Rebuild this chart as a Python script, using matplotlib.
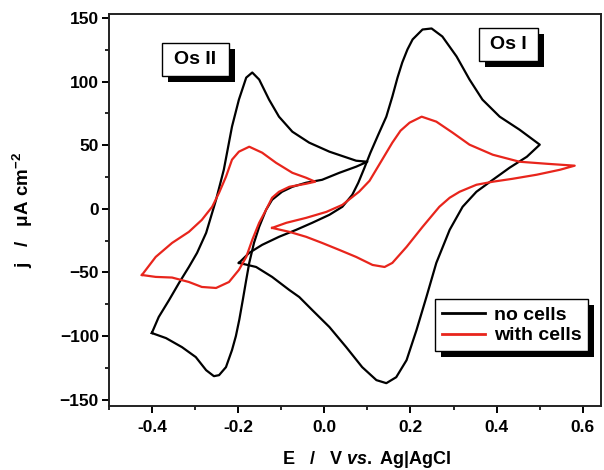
import matplotlib
matplotlib.use("Agg")
import matplotlib.pyplot as plt
from matplotlib.patches import Rectangle
from matplotlib.ticker import MultipleLocator
import matplotlib.transforms as mtransforms

plt.rcParams['font.family'] = ['Liberation Sans', 'DejaVu Sans']
plt.rcParams['mathtext.fontset'] = 'custom'
plt.rcParams['mathtext.rm'] = 'Liberation Sans:bold'
plt.rcParams['mathtext.bf'] = 'Liberation Sans:bold'
plt.rcParams['mathtext.it'] = 'Liberation Sans:italic:bold'

# ---- data (E in V vs Ag|AgCl, j in uA cm^-2) ----
nocells_os2_E = [-0.400, -0.384, -0.360, -0.337, -0.314, -0.295, -0.274, -0.251, -0.233, -0.214,
                 -0.198, -0.181, -0.167, -0.151, -0.128, -0.105, -0.074, -0.035, 0.012, 0.074,
                 0.100,
                 0.074, 0.035, -0.005, -0.042, -0.074, -0.098, -0.121, -0.135, -0.151, -0.163,
                 -0.174, -0.181, -0.189, -0.197, -0.205, -0.214, -0.228, -0.244, -0.256, -0.274,
                 -0.298, -0.330, -0.367, -0.400]
nocells_os2_j = [-97.6, -85.0, -71.7, -58.3, -45.7, -34.6, -18.9, 7.1, 30.7, 64.6,
                 85.8, 103.1, 107.1, 101.6, 85.8, 72.4, 60.6, 52.0, 44.9, 37.8,
                 37.0,
                 33.1, 28.3, 22.8, 20.5, 17.3, 13.4, 7.1, -0.8, -14.2, -26.8,
                 -42.5, -55.9, -71.7, -87.0, -100.0, -111.0, -124.4, -130.7, -131.5, -126.8,
                 -116.5, -108.7, -101.6, -97.6]

nocells_os1_E = [-0.198, -0.174, -0.144, -0.105, -0.065, -0.028, 0.012, 0.042, 0.065, 0.079,
                 0.093, 0.107, 0.125, 0.144, 0.158, 0.170, 0.181, 0.193, 0.205, 0.228,
                 0.249, 0.274, 0.307, 0.337, 0.367, 0.407, 0.453, 0.500,
                 0.470, 0.430, 0.391, 0.353, 0.321, 0.291, 0.260, 0.237, 0.214, 0.191,
                 0.167, 0.144, 0.121, 0.088, 0.051, 0.012, -0.028, -0.058, -0.081, -0.121,
                 -0.158, -0.198]
nocells_os1_j = [-42.5, -34.6, -28.3, -22.0, -16.5, -11.0, -4.7, 1.6, 11.0, 20.5,
                 32.0, 44.0, 58.0, 72.4, 88.2, 103.1, 115.0, 125.2, 133.1, 140.9,
                 141.7, 135.4, 119.7, 101.6, 85.8, 72.4, 62.2, 50.4,
                 40.9, 32.3, 22.8, 13.4, 1.6, -16.5, -42.5, -69.3, -95.3, -118.9,
                 -132.3, -137.0, -134.6, -124.4, -108.7, -92.9, -79.5, -69.3, -63.8, -53.5,
                 -45.7, -42.5]

cells_os2_E = [-0.423, -0.391, -0.353, -0.314, -0.284, -0.260, -0.244, -0.228, -0.214, -0.198,
               -0.174, -0.144, -0.112, -0.074, -0.042, -0.021,
               -0.042, -0.081, -0.105, -0.121, -0.135, -0.151, -0.167, -0.181, -0.198, -0.221,
               -0.251, -0.284, -0.314, -0.353, -0.391, -0.423]
cells_os2_j = [-52.0, -37.8, -26.8, -18.1, -8.7, 1.6, 12.6, 25.2, 38.6, 44.9,
               48.8, 44.1, 36.2, 28.3, 24.4, 21.3,
               19.7, 17.3, 13.4, 8.7, -0.8, -11.0, -24.4, -37.8, -48.0, -57.5,
               -62.2, -61.4, -57.5, -54.0, -53.5, -52.0]

cells_os1_E = [-0.121, -0.088, -0.042, 0.005, 0.042, 0.081, 0.105, 0.128, 0.158, 0.177,
               0.198, 0.226, 0.260, 0.298, 0.337, 0.391, 0.453, 0.516, 0.581,
               0.547, 0.493, 0.437, 0.391, 0.353, 0.314, 0.291, 0.267, 0.228, 0.191,
               0.158, 0.140, 0.112, 0.074, 0.035, -0.005, -0.042, -0.081, -0.121]
cells_os1_j = [-15.0, -11.0, -7.1, -2.4, 3.1, 13.5, 22.0, 35.0, 52.0, 61.4,
               67.7, 72.4, 68.5, 59.8, 50.4, 42.5, 37.0, 35.4, 33.9,
               30.7, 26.8, 23.6, 21.3, 18.9, 13.4, 8.7, 1.6, -14.2, -29.9,
               -42.5, -45.7, -44.1, -37.8, -32.3, -26.8, -22.0, -18.1, -15.0]

series_labels = ["no cells", "with cells"]
box_labels = ["Os II", "Os I"]
x_ticks = [-0.4, -0.2, 0.0, 0.2, 0.4, 0.6]
y_ticks = [-150, -100, -50, 0, 50, 100, 150]

# ---- figure ----
fig = plt.figure(figsize=(6.04, 4.70), dpi=100)
ax = fig.add_axes([0.180, 0.136, 0.815, 0.834])

lw = 1.6
red = '#e8251c'
l1, = ax.plot(nocells_os2_E, nocells_os2_j, color='black', lw=lw, solid_joinstyle='round',
              label=series_labels[0])
ax.plot(nocells_os1_E, nocells_os1_j, color='black', lw=lw, solid_joinstyle='round')
l2, = ax.plot(cells_os2_E, cells_os2_j, color=red, lw=lw, solid_joinstyle='round',
              label=series_labels[1])
ax.plot(cells_os1_E, cells_os1_j, color=red, lw=lw, solid_joinstyle='round')

ax.set_xlim(-0.5, 0.642)
ax.set_ylim(-155, 153)
ax.set_xticks(x_ticks)
ax.set_xticklabels([f"{v:.1f}" for v in x_ticks])
ax.set_yticks(y_ticks)
ax.xaxis.set_minor_locator(MultipleLocator(0.1))
ax.yaxis.set_minor_locator(MultipleLocator(25))
ax.tick_params(which='major', direction='out', length=5, width=1.4, labelsize=12.5)
ax.tick_params(axis='x', which='major', pad=5)
ax.tick_params(axis='y', which='major', pad=2)
ax.tick_params(which='minor', direction='out', length=3, width=1.2)
ax.tick_params(top=False, right=False, which='both')
for lab in ax.get_xticklabels() + ax.get_yticklabels():
    lab.set_fontweight('bold')
for sp in ax.spines.values():
    sp.set_linewidth(1.4)
    sp.set_color('#222222')

ax.set_xlabel(r"E   /   V $\mathit{vs.}$ Ag|AgCl", fontsize=13, fontweight='bold')
ax.xaxis.set_label_coords(0.524, -0.110)
ax.set_ylabel(r"j   /   μA cm$^{-2}$", fontsize=13.5, fontweight='bold', labelpad=18)

# labelled boxes with black drop shadow
shadow_tr = mtransforms.offset_copy(ax.transAxes, fig=fig, x=6, y=-6, units='dots')
boxes = [(0.108, 0.842, 0.136, 0.084), (0.752, 0.880, 0.120, 0.084)]
for (x0, y0, w, h), txt in zip(boxes, box_labels):
    ax.add_patch(Rectangle((x0, y0), w, h, transform=shadow_tr, facecolor='black',
                           edgecolor='black', lw=0, zorder=6))
    ax.add_patch(Rectangle((x0, y0), w, h, transform=ax.transAxes, facecolor='white',
                           edgecolor='black', lw=1.0, zorder=7))
    ax.text(x0 + w / 2, y0 + h / 2, txt, transform=ax.transAxes, ha='center', va='center',
            fontsize=14, fontweight='bold', zorder=8)

leg = ax.legend(handles=[l1, l2], loc='lower right', bbox_to_anchor=(0.974, 0.140),
                borderaxespad=0, fancybox=False, edgecolor='black', framealpha=1,
                fontsize=14, handlelength=2.2, handletextpad=0.45, borderpad=0.35,
                labelspacing=0.15)
leg.get_frame().set_linewidth(1.0)
leg.set_zorder(7)
for txt in leg.get_texts():
    txt.set_fontweight('bold')
for h in leg.get_lines():
    h.set_linewidth(2.0)

fig.canvas.draw()
r = fig.canvas.get_renderer()
bb = leg.get_window_extent(r).transformed(ax.transAxes.inverted())
ax.add_patch(Rectangle((bb.x0, bb.y0), bb.width, bb.height, transform=shadow_tr,
                       facecolor='black', edgecolor='black', lw=0, zorder=6))

fig.savefig("out.png", dpi=100)
